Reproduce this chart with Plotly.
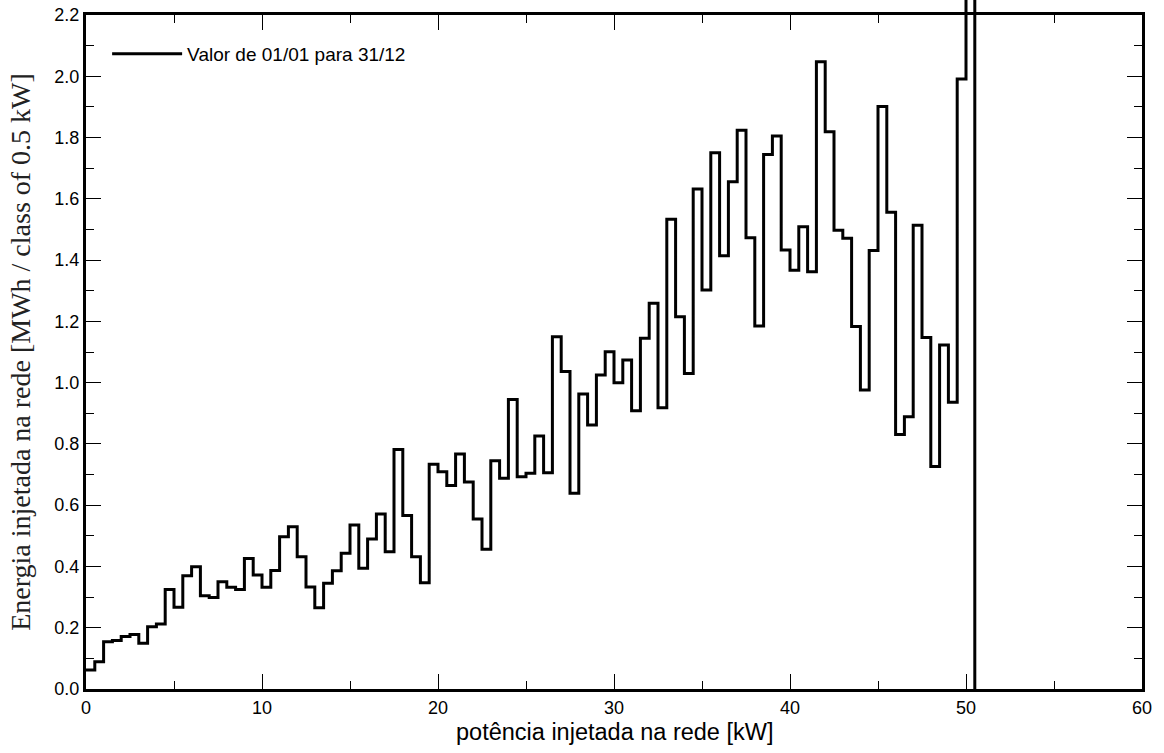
import plotly.graph_objects as go

# bin width 0.5 kW, bins start at 0
bin_width = 0.5
energy = [
    0.062, 0.089, 0.154, 0.158, 0.171, 0.178, 0.149, 0.203, 0.212, 0.325,
    0.267, 0.370, 0.399, 0.304, 0.299, 0.350, 0.332, 0.325, 0.426, 0.372,
    0.332, 0.387, 0.497, 0.530, 0.432, 0.333, 0.265, 0.345, 0.386, 0.443,
    0.535, 0.394, 0.490, 0.571, 0.448, 0.782, 0.566, 0.432, 0.347, 0.734,
    0.709, 0.664, 0.767, 0.676, 0.555, 0.456, 0.745, 0.688, 0.945, 0.693,
    0.704, 0.826, 0.706, 1.150, 1.036, 0.639, 0.963, 0.862, 1.025, 1.101,
    1.000, 1.074, 0.908, 1.145, 1.259, 0.918, 1.533, 1.215, 1.030, 1.632,
    1.302, 1.750, 1.414, 1.656, 1.824, 1.473, 1.185, 1.745, 1.805, 1.433,
    1.367, 1.509, 1.362, 2.047, 1.819, 1.497, 1.471, 1.183, 0.976, 1.431,
    1.901, 1.556, 0.831, 0.889, 1.514, 1.147, 0.726, 1.123, 0.936, 1.991,
    3.000,
]
edges = [i * bin_width for i in range(len(energy) + 1)]
step_x = edges
step_y = energy + [0.0]

x_ticks = [0, 10, 20, 30, 40, 50, 60]
y_ticks = [0.0, 0.2, 0.4, 0.6, 0.8, 1.0, 1.2, 1.4, 1.6, 1.8, 2.0, 2.2]

x_title = "potência injetada na rede [kW]"
y_title = "Energia injetada na rede [MWh / class of 0.5 kW]"
series_name = "Valor de 01/01 para 31/12"

W, H = 1164, 753
m_l, m_r, m_t, m_b = 86, 22, 0, 64
plot_h = H - m_b - m_t
top_frame = 15
dom_top = (plot_h - top_frame) / plot_h
y_max = 2.2

fig = go.Figure()
# empty trace so the framed subplot exists
fig.add_trace(go.Scatter(x=[], y=[], xaxis="x", yaxis="y", showlegend=False, hoverinfo="skip"))
fig.add_trace(go.Scatter(
    x=step_x, y=step_y, mode="lines", line_shape="hv",
    line=dict(color="black", width=3),
    name=series_name,
    xaxis="x2", yaxis="y2",
))

tickfont = dict(family="Liberation Sans, Arial, sans-serif", size=18, color="black")
fig.update_layout(
    template="none",
    width=W, height=H,
    margin=dict(l=m_l, r=m_r, t=m_t, b=m_b, autoexpand=False),
    paper_bgcolor="white", plot_bgcolor="rgba(0,0,0,0)",
    showlegend=True,
    legend=dict(
        x=0.02, y=0.9495, xanchor="left", yanchor="top",
        font=dict(family="Liberation Sans, Arial, sans-serif", size=19, color="black"),
        bgcolor="rgba(0,0,0,0)", itemwidth=70,
    ),
    xaxis=dict(
        domain=[0, 1], range=[0, 60], anchor="y", automargin=False,
        tickvals=x_ticks, ticktext=[str(v) for v in x_ticks],
        ticks="inside", ticklen=15, tickwidth=1, tickcolor="black",
        minor=dict(dtick=5, ticklen=8, tickwidth=1, tickcolor="black", ticks="inside"),
        showline=True, linewidth=3, linecolor="black", mirror="ticks",
        showgrid=False, zeroline=False, tickfont=tickfont,
    ),
    yaxis=dict(
        domain=[0, dom_top], range=[0, y_max], anchor="x", automargin=False,
        tickvals=y_ticks, ticktext=[f"{v:.1f}" for v in y_ticks],
        ticks="inside", ticklen=15, tickwidth=1, tickcolor="black",
        minor=dict(dtick=0.1, ticklen=8, tickwidth=1, tickcolor="black", ticks="inside"),
        showline=True, linewidth=3, linecolor="black", mirror="ticks",
        showgrid=False, zeroline=False, tickfont=tickfont,
        title=dict(text=y_title,
                   font=dict(family="Liberation Serif, Times New Roman, serif", size=28, color="#222222"),
                   standoff=16),
    ),
    xaxis2=dict(domain=[0, 1], range=[0, 60], anchor="y2", visible=False,
                fixedrange=True, automargin=False),
    yaxis2=dict(domain=[0, 1], range=[0, y_max / dom_top], anchor="x2", visible=False,
                fixedrange=True, automargin=False),
    annotations=[dict(
        text=x_title, xref="paper", yref="paper", x=0.5, y=-(732 - plot_h) / plot_h,
        xanchor="center", yanchor="middle", showarrow=False,
        font=dict(family="Liberation Sans, Arial, sans-serif", size=23.5, color="black"),
    )],
)

fig.write_html("out.html")
